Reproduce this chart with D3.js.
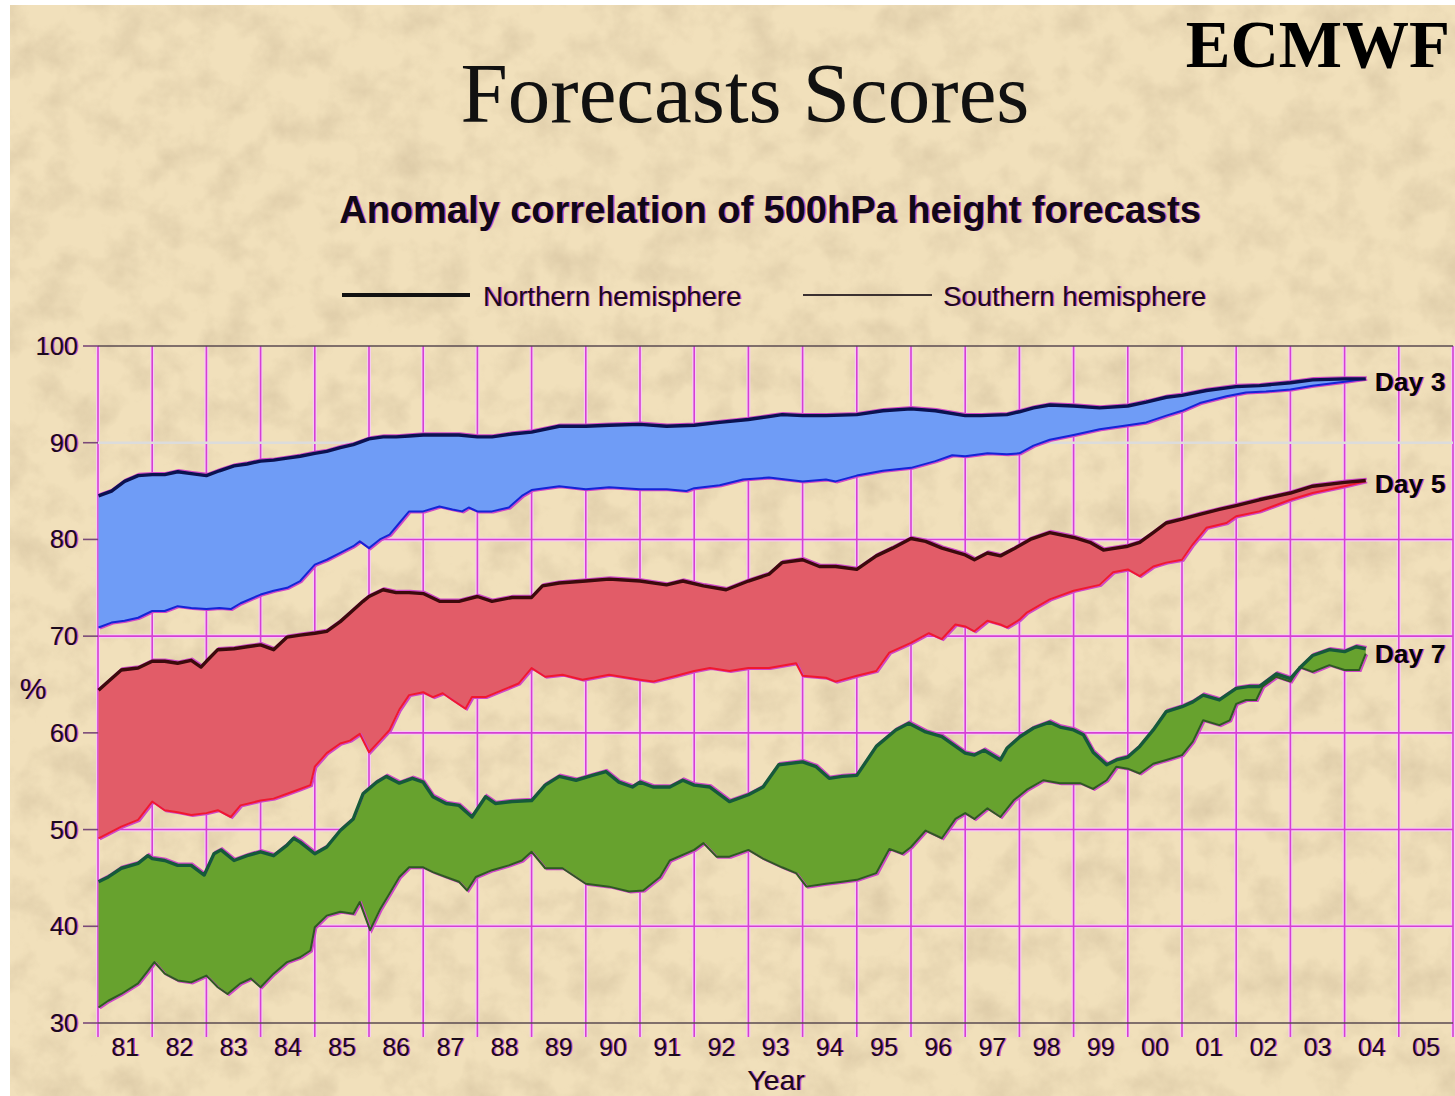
<!DOCTYPE html>
<html>
<head>
<meta charset="utf-8">
<script src="https://cdn.jsdelivr.net/npm/d3@7/dist/d3.min.js"></script>
<style>
  html, body { margin: 0; padding: 0; background: #fff; }
  svg { display: block; }
</style>
</head>
<body>
<svg id="chart" width="1455" height="1096"></svg>
<script>
// [decimal year, anomaly correlation %]
const nh3 = [[1981.01,84.5],[1981.25,85.0],[1981.49,86.0],[1981.74,86.6],[1982.0,86.7],[1982.23,86.7],[1982.47,87.0],[1982.72,86.8],[1983.0,86.6],[1983.24,87.1],[1983.51,87.6],[1983.75,87.8],[1984.0,88.1],[1984.24,88.2],[1984.49,88.4],[1984.73,88.6],[1985.0,88.9],[1985.22,89.1],[1985.47,89.5],[1985.71,89.8],[1986.0,90.4],[1986.26,90.6],[1986.5,90.6],[1986.74,90.7],[1987.0,90.8],[1987.3,90.8],[1987.66,90.8],[1988.0,90.6],[1988.27,90.6],[1988.64,90.9],[1989.0,91.1],[1989.51,91.7],[1990.0,91.7],[1990.43,91.8],[1991.0,91.9],[1991.49,91.7],[1992.0,91.8],[1992.47,92.1],[1993.0,92.4],[1993.38,92.7],[1993.62,92.9],[1994.0,92.8],[1994.43,92.8],[1995.0,92.9],[1995.48,93.3],[1996.0,93.5],[1996.45,93.3],[1997.0,92.8],[1997.29,92.8],[1997.77,92.9],[1998.0,93.2],[1998.26,93.6],[1998.56,93.9],[1999.0,93.8],[1999.48,93.6],[2000.0,93.8],[2000.34,94.2],[2000.71,94.7],[2001.0,94.9],[2001.45,95.4],[2002.0,95.8],[2002.43,95.9],[2003.0,96.2],[2003.41,96.5],[2004.0,96.6],[2004.39,96.6]];
const sh3 = [[1981.01,70.9],[1981.25,71.4],[1981.49,71.6],[1981.74,71.9],[1982.0,72.6],[1982.23,72.6],[1982.47,73.1],[1982.72,72.9],[1983.0,72.8],[1983.24,72.9],[1983.45,72.8],[1983.63,73.4],[1984.0,74.3],[1984.24,74.7],[1984.49,75.0],[1984.73,75.7],[1985.0,77.4],[1985.22,77.9],[1985.47,78.6],[1985.71,79.3],[1985.83,79.8],[1986.0,79.1],[1986.2,80.0],[1986.38,80.5],[1986.56,81.7],[1986.74,82.9],[1987.0,82.9],[1987.3,83.4],[1987.54,83.1],[1987.72,82.9],[1987.84,83.3],[1988.0,82.9],[1988.27,82.9],[1988.58,83.3],[1988.82,84.5],[1989.0,85.1],[1989.51,85.5],[1990.0,85.2],[1990.43,85.4],[1991.0,85.2],[1991.49,85.2],[1991.85,85.0],[1992.0,85.3],[1992.47,85.6],[1992.9,86.2],[1993.38,86.4],[1994.0,86.0],[1994.43,86.2],[1994.61,86.0],[1995.0,86.6],[1995.48,87.1],[1996.0,87.4],[1996.45,88.1],[1996.76,88.7],[1997.0,88.6],[1997.41,88.9],[1997.77,88.8],[1998.0,88.9],[1998.26,89.7],[1998.56,90.3],[1999.0,90.8],[1999.48,91.4],[2000.0,91.8],[2000.34,92.1],[2000.71,92.8],[2001.0,93.3],[2001.33,94.1],[2001.82,94.8],[2002.18,95.2],[2002.55,95.3],[2003.0,95.5],[2003.41,95.9],[2004.0,96.3],[2004.39,96.6]];

const nh5 = [[1981.01,64.4],[1981.19,65.3],[1981.43,66.5],[1981.74,66.7],[1982.0,67.4],[1982.23,67.4],[1982.47,67.2],[1982.72,67.5],[1982.9,66.8],[1983.0,67.4],[1983.21,68.6],[1983.51,68.7],[1983.75,68.9],[1984.0,69.1],[1984.24,68.6],[1984.49,69.9],[1984.73,70.1],[1985.0,70.3],[1985.22,70.5],[1985.47,71.5],[1985.71,72.7],[1985.89,73.6],[1986.0,74.1],[1986.26,74.8],[1986.5,74.5],[1986.74,74.5],[1987.0,74.4],[1987.3,73.6],[1987.66,73.6],[1988.0,74.1],[1988.27,73.6],[1988.64,74.0],[1989.0,74.0],[1989.2,75.2],[1989.51,75.5],[1990.0,75.7],[1990.43,75.9],[1991.0,75.7],[1991.49,75.3],[1991.79,75.7],[1992.17,75.2],[1992.59,74.8],[1993.0,75.7],[1993.38,76.4],[1993.62,77.6],[1994.0,77.9],[1994.31,77.2],[1994.61,77.2],[1995.0,76.9],[1995.36,78.3],[1995.66,79.1],[1996.0,80.1],[1996.27,79.8],[1996.57,79.1],[1997.0,78.4],[1997.17,77.9],[1997.41,78.6],[1997.65,78.3],[1997.89,79.0],[1998.2,80.0],[1998.56,80.7],[1999.0,80.2],[1999.3,79.7],[1999.55,78.9],[2000.0,79.3],[2000.22,79.7],[2000.47,80.7],[2000.71,81.7],[2001.0,82.1],[2001.33,82.6],[2001.69,83.1],[2002.0,83.5],[2002.43,84.1],[2003.0,84.8],[2003.41,85.5],[2004.0,85.9],[2004.39,86.1]];
const sh5 = [[1981.01,49.1],[1981.19,49.6],[1981.43,50.3],[1981.74,51.0],[1982.0,52.9],[1982.23,52.0],[1982.47,51.8],[1982.72,51.5],[1983.0,51.7],[1983.21,52.0],[1983.45,51.3],[1983.63,52.5],[1984.0,53.0],[1984.24,53.2],[1984.49,53.7],[1984.73,54.2],[1984.92,54.6],[1985.0,56.5],[1985.22,57.9],[1985.47,58.9],[1985.65,59.2],[1985.83,59.9],[1986.0,58.0],[1986.2,59.2],[1986.38,60.3],[1986.56,62.4],[1986.74,63.9],[1987.0,64.2],[1987.18,63.7],[1987.36,64.1],[1987.54,63.4],[1987.78,62.5],[1987.9,63.7],[1988.15,63.7],[1988.45,64.4],[1988.76,65.1],[1989.0,66.7],[1989.25,65.8],[1989.57,66.0],[1989.94,65.5],[1990.43,66.0],[1991.0,65.5],[1991.24,65.3],[1991.67,65.9],[1992.0,66.4],[1992.29,66.7],[1992.65,66.4],[1993.0,66.7],[1993.38,66.7],[1993.88,67.2],[1994.0,65.9],[1994.43,65.7],[1994.61,65.3],[1995.0,65.9],[1995.36,66.4],[1995.6,68.3],[1996.0,69.3],[1996.33,70.3],[1996.57,69.7],[1996.82,71.2],[1997.0,71.0],[1997.17,70.5],[1997.41,71.6],[1997.65,71.2],[1997.77,70.9],[1998.0,71.7],[1998.13,72.4],[1998.56,73.8],[1999.0,74.7],[1999.48,75.3],[1999.73,76.6],[2000.0,76.9],[2000.22,76.2],[2000.47,77.2],[2000.71,77.6],[2001.0,77.9],[2001.2,79.5],[2001.45,81.2],[2001.82,81.7],[2002.0,82.4],[2002.43,82.9],[2003.0,84.1],[2003.41,84.8],[2004.0,85.5],[2004.39,86.0]];

const nh7 = [[1981.01,44.6],[1981.19,45.1],[1981.43,46.0],[1981.74,46.5],[1981.92,47.3],[1982.0,47.0],[1982.23,46.8],[1982.47,46.3],[1982.72,46.3],[1982.96,45.3],[1983.14,47.5],[1983.27,47.9],[1983.51,46.8],[1983.75,47.3],[1984.0,47.7],[1984.24,47.3],[1984.49,48.4],[1984.61,49.1],[1984.73,48.7],[1985.0,47.5],[1985.22,48.2],[1985.47,49.9],[1985.71,51.1],[1985.89,53.7],[1986.14,54.9],[1986.32,55.5],[1986.56,54.8],[1986.8,55.3],[1987.0,54.9],[1987.18,53.4],[1987.42,52.7],[1987.66,52.5],[1987.9,51.3],[1988.15,53.4],[1988.33,52.7],[1988.64,52.9],[1989.0,53.0],[1989.25,54.6],[1989.51,55.5],[1989.82,55.1],[1990.12,55.6],[1990.37,56.0],[1990.61,54.9],[1990.86,54.4],[1991.0,54.9],[1991.24,54.4],[1991.55,54.4],[1991.79,55.1],[1992.0,54.6],[1992.29,54.4],[1992.65,52.9],[1993.0,53.6],[1993.27,54.4],[1993.56,56.7],[1994.0,57.0],[1994.25,56.5],[1994.49,55.3],[1994.73,55.5],[1995.0,55.6],[1995.36,58.6],[1995.72,60.3],[1995.96,61.0],[1996.27,60.1],[1996.57,59.6],[1997.0,57.9],[1997.17,57.7],[1997.35,58.2],[1997.65,57.2],[1997.77,58.4],[1998.01,59.6],[1998.26,60.5],[1998.56,61.1],[1998.75,60.6],[1999.0,60.3],[1999.18,59.8],[1999.36,58.0],[1999.61,56.7],[1999.79,57.2],[2000.0,57.5],[2000.22,58.6],[2000.47,60.3],[2000.71,62.2],[2001.0,62.7],[2001.2,63.2],[2001.39,63.9],[2001.69,63.4],[2002.0,64.6],[2002.25,64.8],[2002.43,64.8],[2002.74,66.1],[2003.0,65.6],[2003.17,66.7],[2003.41,68.0],[2003.72,68.6],[2004.0,68.4],[2004.21,68.9],[2004.39,68.7]];
const sh7 = [[1981.01,31.6],[1981.19,32.3],[1981.43,33.0],[1981.74,34.1],[1981.92,35.4],[1982.04,36.3],[1982.23,35.1],[1982.47,34.4],[1982.72,34.2],[1983.0,34.9],[1983.21,33.7],[1983.39,33.0],[1983.63,34.1],[1983.82,34.6],[1984.0,33.7],[1984.24,35.1],[1984.49,36.3],[1984.73,36.8],[1984.92,37.5],[1985.0,39.9],[1985.22,41.1],[1985.47,41.5],[1985.71,41.3],[1985.83,42.5],[1986.02,39.6],[1986.2,41.7],[1986.38,43.4],[1986.56,45.1],[1986.74,46.1],[1987.0,46.1],[1987.18,45.6],[1987.42,45.1],[1987.66,44.6],[1987.81,43.7],[1987.97,45.1],[1988.27,45.8],[1988.58,46.3],[1988.82,46.8],[1989.0,47.7],[1989.25,46.0],[1989.57,46.0],[1990.0,44.4],[1990.43,44.1],[1990.8,43.6],[1991.06,43.7],[1991.37,45.1],[1991.55,46.8],[1992.0,47.9],[1992.17,48.6],[1992.41,47.2],[1992.65,47.2],[1993.0,47.9],[1993.27,47.0],[1993.62,46.1],[1993.88,45.5],[1994.07,44.1],[1994.43,44.4],[1994.73,44.6],[1995.0,44.8],[1995.36,45.5],[1995.6,48.0],[1995.84,47.5],[1996.0,48.2],[1996.27,49.9],[1996.57,49.1],[1996.82,51.1],[1997.0,51.7],[1997.17,51.1],[1997.41,52.2],[1997.65,51.3],[1997.89,53.0],[1998.13,54.1],[1998.44,55.1],[1998.75,54.8],[1999.0,54.8],[1999.12,54.8],[1999.36,54.2],[1999.61,55.1],[1999.79,56.5],[2000.0,56.3],[2000.22,55.8],[2000.47,56.8],[2000.71,57.2],[2001.0,57.7],[2001.2,59.1],[2001.39,61.3],[2001.69,60.8],[2001.88,61.3],[2002.0,63.0],[2002.18,63.4],[2002.37,63.4],[2002.49,64.8],[2002.74,65.8],[2003.0,65.3],[2003.17,66.8],[2003.41,66.3],[2003.72,67.0],[2004.0,66.5],[2004.27,66.5],[2004.39,68.2]];

const yearLabels = ['81','82','83','84','85','86','87','88','89','90','91','92','93','94','95','96','97','98','99','00','01','02','03','04','05'];
const firstYear = 1981;
const yTicks = [30, 40, 50, 60, 70, 80, 90, 100];
const dayLabels = ['Day 3', 'Day 5', 'Day 7'];

const bands = [
  { label: dayLabels[0], nh: nh3, sh: sh3, fill: '#6f9cf6', nhColor: '#0a1250', shColor: '#1424d6' },
  { label: dayLabels[1], nh: nh5, sh: sh5, fill: '#e25c68', nhColor: '#3c0a0c', shColor: '#f01830' },
  { label: dayLabels[2], nh: nh7, sh: sh7, fill: '#67a22e', nhColor: '#155a3a', shColor: '#2e5a22' }
];

const W = 1455, H = 1096;
const svg = d3.select('#chart');

const x = d3.scaleLinear().domain([firstYear, firstYear + yearLabels.length]).range([98, 1453]);
const y = d3.scaleLinear().domain([30, 100]).range([1023, 346]);

// paper background
const defs = svg.append('defs');
const paper = defs.append('filter').attr('id', 'paper')
  .attr('x', 0).attr('y', 0).attr('width', '100%').attr('height', '100%');
paper.append('feTurbulence').attr('type', 'fractalNoise')
  .attr('baseFrequency', '0.028').attr('numOctaves', 4).attr('seed', 11);
paper.append('feColorMatrix').attr('type', 'matrix')
  .attr('values', '0 0 0 0 0.62  0 0 0 0 0.50  0 0 0 0 0.32  1.9 0 0 0 -0.78');

svg.append('rect').attr('x', 10).attr('y', 5).attr('width', W - 10).attr('height', H - 5)
  .attr('fill', '#f1e0bb');
svg.append('rect').attr('x', 10).attr('y', 5).attr('width', W - 10).attr('height', H - 5)
  .attr('filter', 'url(#paper)').attr('opacity', 0.55);

// text with the magenta fringe of the original slide
function fringeText(g, px, py, str, opts) {
  const t = g.append('g');
  [['#d040c8', 1.4, 0.8], [opts.fill || '#1a0a1c', 0, 1]].forEach(([c, dx, op]) => {
    t.append('text')
      .attr('x', px + dx).attr('y', py)
      .attr('font-family', opts.family || '"Liberation Sans", Arial, sans-serif')
      .attr('font-size', opts.size)
      .attr('font-weight', opts.weight || 'normal')
      .attr('text-anchor', opts.anchor || 'start')
      .attr('fill', c).attr('opacity', op)
      .text(str);
  });
  return t;
}

// titles
svg.append('text').attr('x', 745).attr('y', 122).attr('text-anchor', 'middle')
  .attr('font-family', '"Liberation Serif", "Times New Roman", serif')
  .attr('font-size', 85).attr('fill', '#111').text('Forecasts Scores');
svg.append('text').attr('x', 1450).attr('y', 67).attr('text-anchor', 'end')
  .attr('font-family', '"Liberation Serif", "Times New Roman", serif')
  .attr('font-weight', 'bold').attr('font-size', 67).attr('fill', '#000').text('ECMWF');
fringeText(svg, 770, 223, 'Anomaly correlation of 500hPa height forecasts',
  { size: 38, weight: 'bold', anchor: 'middle', fill: '#100818' });

// legend
svg.append('line').attr('x1', 342).attr('x2', 470).attr('y1', 295).attr('y2', 295)
  .attr('stroke', '#111').attr('stroke-width', 4);
fringeText(svg, 483, 306, 'Northern hemisphere', { size: 27.5 });
svg.append('line').attr('x1', 803).attr('x2', 932).attr('y1', 295).attr('y2', 295)
  .attr('stroke', '#3a3030').attr('stroke-width', 2);
fringeText(svg, 943, 306, 'Southern hemisphere', { size: 27.5 });

// grid
const grid = svg.append('g');
const vYears = d3.range(yearLabels.length + 1).map(i => firstYear + i);
grid.selectAll('line.vhalo').data(vYears).join('line')
  .attr('x1', d => x(d)).attr('x2', d => x(d)).attr('y1', y(100)).attr('y2', y(30) + 14)
  .attr('stroke', '#f6cdf0').attr('stroke-width', 4);
grid.selectAll('line.hhalo').data(yTicks.filter(v => v > 30 && v < 100 && v !== 90)).join('line')
  .attr('x1', x(firstYear)).attr('x2', x(firstYear + yearLabels.length))
  .attr('y1', d => y(d)).attr('y2', d => y(d))
  .attr('stroke', '#f6cdf0').attr('stroke-width', 4);
grid.selectAll('line.v').data(vYears).join('line')
  .attr('x1', d => x(d)).attr('x2', d => x(d)).attr('y1', y(100)).attr('y2', y(30) + 14)
  .attr('stroke', '#d63fd4').attr('stroke-width', 1.6);
grid.selectAll('line.h').data(yTicks.filter(v => v > 30 && v < 100)).join('line')
  .attr('x1', x(firstYear)).attr('x2', x(firstYear + yearLabels.length))
  .attr('y1', d => y(d)).attr('y2', d => y(d))
  .attr('stroke', d => d === 90 ? '#dcdcdc' : '#d63fd4')
  .attr('stroke-width', d => d === 90 ? 2.5 : 1.6);
[100, 30].forEach(v => {
  grid.append('line').attr('x1', x(firstYear)).attr('x2', x(firstYear + yearLabels.length))
    .attr('y1', y(v)).attr('y2', y(v)).attr('stroke', '#5a4a50').attr('stroke-width', 1.6);
});

// y axis ticks and labels
const yAxis = svg.append('g');
yAxis.selectAll('line').data(yTicks).join('line')
  .attr('x1', 83).attr('x2', x(firstYear)).attr('y1', d => y(d)).attr('y2', d => y(d))
  .attr('stroke', '#7a4a78').attr('stroke-width', 1.6);
yTicks.forEach(v => fringeText(yAxis, 78, y(v) + 9, String(v), { size: 25.5, anchor: 'end' }));
fringeText(svg, 33, 699, '%', { size: 30, anchor: 'middle' });

// x labels
const xAxis = svg.append('g');
yearLabels.forEach((lab, i) => fringeText(xAxis, x(firstYear + i + 0.5), 1056, lab, { size: 25, anchor: 'middle' }));
fringeText(svg, 776, 1089.5, 'Year', { size: 28.5, anchor: 'middle' });

// bands
const line = d3.line().x(d => x(d[0])).y(d => y(d[1]));
const plot = svg.append('g');
bands.forEach(b => {
  const poly = b.nh.concat(b.sh.slice().reverse());
  plot.append('path').attr('d', line(poly) + 'Z').attr('fill', b.fill);
  plot.append('path').attr('d', line(b.sh)).attr('fill', 'none')
    .attr('stroke', '#d048c8').attr('stroke-width', 2).attr('transform', 'translate(1.5,1)');
  plot.append('path').attr('d', line(b.sh)).attr('fill', 'none')
    .attr('stroke', b.shColor).attr('stroke-width', 2).attr('stroke-linejoin', 'round');
  plot.append('path').attr('d', line(b.nh)).attr('fill', 'none')
    .attr('stroke', '#d048c8').attr('stroke-width', 2.5).attr('transform', 'translate(1,-1.5)');
  plot.append('path').attr('d', line(b.nh)).attr('fill', 'none')
    .attr('stroke', b.nhColor).attr('stroke-width', 3.4).attr('stroke-linejoin', 'round');

  const lastN = b.nh[b.nh.length - 1], lastS = b.sh[b.sh.length - 1];
  const ly = y((lastN[1] + lastS[1]) / 2);
  fringeText(plot, x(lastN[0]) + 9, ly + 12, b.label, { size: 26.5, weight: 'bold', fill: '#050505' });
});
</script>
</body>
</html>
